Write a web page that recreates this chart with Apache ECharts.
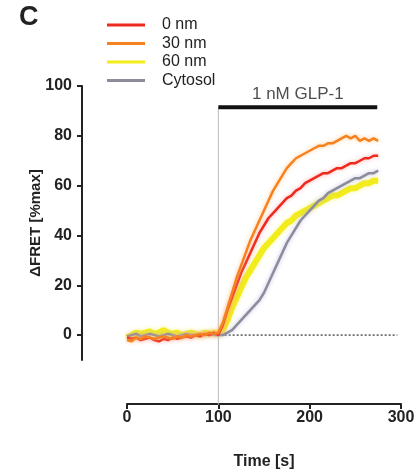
<!DOCTYPE html>
<html><head><meta charset="utf-8">
<script src="https://cdn.jsdelivr.net/npm/echarts@6/dist/echarts.min.js"></script>
<style>html,body{margin:0;padding:0;background:#fff}#c{width:417px;height:472px}</style>
</head><body><div id="c"></div>
<script>
var times = [0,5,10,15,20,25,30,35,40,45,50,55,60,65,70,75,80,85,90,95,100,
  105,110,115,120,125,130,135,140,145,150,155,160,165,170,175,180,185,190,195,200,
  205,210,215,220,225,230,235,240,245,250,255,260,265,270,275];
var seriesNames = ['0 nm','30 nm','60 nm','Cytosol'];
var red = [-1,-1.5,-1,-2,-1.5,-1,-2,-2.5,-1.5,-2,-1,-1.5,-1,-0.5,-1,0,-0.5,0.5,0,1,0,
  4,10,15,20,25,29,33,37,41,44,47,49,51,53,55,56,58,59,61,62,63,64,65,65,66,67,67,68,69,69,70,71,71,72,72];
var orange = [-2,-2.5,-1,-1.5,-0.5,-1,-1.5,-1,-0.5,-1,-1.5,-0.5,-1,0,-0.5,0,0.5,0,1,0.5,1,
  5,11,17,23,28,33,38,42,46,50,54,58,61,64,67,69,71,72,73,74,75,76,76,77,77,78,79,80,79,80,78,79,78,79,78];
var yellow = [-1,0,1,0.5,1,1.5,0.5,1,2,1,0.5,1,0,0.5,1,0.5,0,1,0.5,1,0.5,
  2,6,11,15,19,23,26,29,32,35,37,39,41,43,45,46,48,49,50,51,52,53,54,55,56,56,57,58,59,59,60,61,61,62,62];
var gray = [-0.5,0,0.5,-0.5,0,0.5,0,-0.5,0,0.5,0,-0.5,0,0.5,0,0,0.5,0,0.5,0,0,
  0,1,2,4,6,8,10,12,14,17,21,25,29,33,37,40,43,46,48,50,52,54,55,57,58,59,60,61,62,63,63,64,65,65,66];
var yTicks = [0,20,40,60,80,100];
var xTicks = [0,100,200,300];
var stimStart = 100, stimEnd = 274, stimLevel = 91.5;
var stimLabel = '1 nM GLP-1';

function pairs(v){ return times.map(function(t,i){ return [t, v[i]]; }); }
var F = 'Liberation Sans, Arial, sans-serif';
var chart = echarts.init(document.getElementById('c'));
function curve(name, color, data, w, z, halo){
  return {type:'line', name:name, data:pairs(data), showSymbol:false, symbol:'none', z:z,
    color:color, lineStyle:{color:color, width:w, shadowBlur:4, shadowColor:halo}, silent:true};
}
chart.setOption({
  animation:false,
  grid:{left:127, right:16, top:86, bottom:112, outerBoundsMode:'none', containLabel:false},
  legend:{data:seriesNames, orient:'vertical', left:107, top:17, icon:'rect', itemWidth:38, itemHeight:3,
    itemGap:2.5, padding:0, textStyle:{fontFamily:F, fontSize:16, lineHeight:16, color:'#222', padding:[0,0,0,12]}},
  graphic:[{type:'text', left:19, top:4, style:{text:'C', font:'bold 27px '+F, fill:'#222'}}],
  xAxis:{type:'value', min:0, max:300, interval:100, offset:44,
    axisLine:{show:true, onZero:false, lineStyle:{color:'#222', width:2}},
    axisTick:{show:true, length:5, customValues:xTicks, lineStyle:{color:'#222', width:2}},
    axisLabel:{customValues:xTicks, fontFamily:F, fontSize:16, fontWeight:'bold', color:'#222', margin:6},
    splitLine:{show:false},
    name:'Time [s]', nameLocation:'middle', nameGap:50, nameMoveOverlap:false,
    nameTextStyle:{fontFamily:F, fontSize:16, fontWeight:'bold', color:'#222'}},
  yAxis:{type:'value', min:-10, max:100, interval:10, offset:45,
    axisLine:{show:true, onZero:false, lineStyle:{color:'#222', width:2}},
    axisTick:{show:true, length:5, customValues:yTicks, lineStyle:{color:'#222', width:2}},
    axisLabel:{customValues:yTicks, fontFamily:F, fontSize:16, fontWeight:'bold', color:'#222', margin:10},
    splitLine:{show:false},
    name:'ΔFRET [%max]', nameLocation:'middle', nameGap:39, nameRotate:90, nameMoveOverlap:false,
    nameTextStyle:{fontFamily:F, fontSize:15, fontWeight:'bold', color:'#222'}},
  series:[
    {type:'line', data:[[-42,0],[296,0]], clip:false, symbol:'none', silent:true, z:1,
      lineStyle:{color:'#555', width:1.5, type:[2,2]}},
    {type:'line', data:[[stimStart,stimLevel],[stimStart,-28]], clip:false, symbol:'none', silent:true, z:1,
      lineStyle:{color:'#bbb', width:1}},
    {type:'line', data:[[stimStart,stimLevel],[stimEnd,stimLevel]], clip:false, symbol:'none', silent:true, z:5,
      lineStyle:{color:'#111', width:4}},
    {type:'scatter', data:[[(stimStart+stimEnd)/2, stimLevel]], symbolSize:0, silent:true, z:5,
      label:{show:true, position:'top', distance:4, formatter:stimLabel, fontFamily:F, fontSize:17, color:'#222'}},
    curve('60 nm', '#f2ec1c', yellow, 6, 2, 'rgba(250,245,120,0.8)'),
    curve('Cytosol', '#8c8c9c', gray, 2.5, 3, 'rgba(180,180,220,0.8)'),
    curve('0 nm', '#ee2a1e', red, 2.5, 4, 'rgba(255,150,150,0.8)'),
    curve('30 nm', '#f5821f', orange, 2.5, 4, 'rgba(255,190,120,0.8)')
  ]
});
</script></body></html>
